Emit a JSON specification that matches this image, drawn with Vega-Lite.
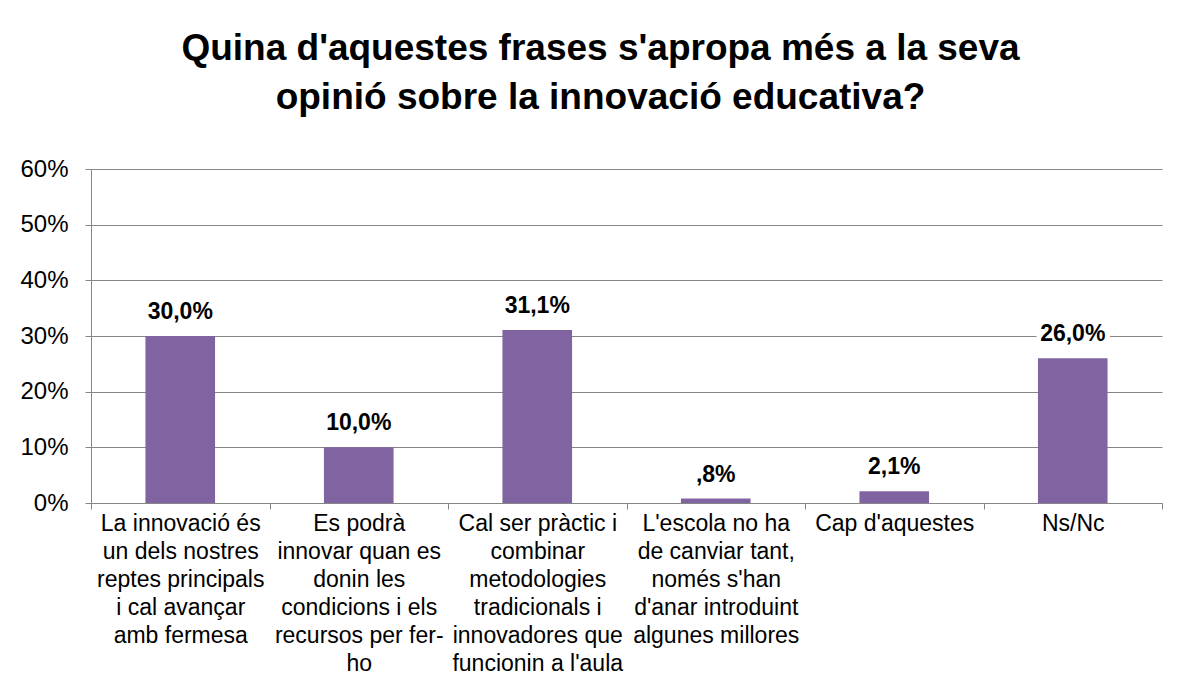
{
  "$schema": "https://vega.github.io/schema/vega-lite/v6.json",
  "width": 1071,
  "height": 334,
  "autosize": "none",
  "padding": {"left": 91, "top": 169, "right": 16, "bottom": 190},
  "background": "white",
  "config": {
    "font": "Liberation Sans",
    "view": {"stroke": null}
  },
  "title": {
    "text": ["Quina d'aquestes frases s'apropa més a la seva", "opinió sobre la innovació educativa?"],
    "fontSize": 37,
    "fontWeight": "bold",
    "font": "Liberation Sans",
    "color": "black",
    "anchor": "middle",
    "dx": -26,
    "lineHeight": 49,
    "offset": 40
  },
  "data": {
    "values": [
      {"frase": "La innovació és|un dels nostres|reptes principals|i cal avançar|amb fermesa", "percentatge": 0.300, "etiqueta": "30,0%"},
      {"frase": "Es podrà|innovar quan es|donin les|condicions i els|recursos per fer-|ho", "percentatge": 0.100, "etiqueta": "10,0%"},
      {"frase": "Cal ser pràctic i|combinar|metodologies|tradicionals i|innovadores que|funcionin a l'aula", "percentatge": 0.311, "etiqueta": "31,1%"},
      {"frase": "L'escola no ha|de canviar tant,|només s'han|d'anar introduint|algunes millores", "percentatge": 0.008, "etiqueta": ",8%"},
      {"frase": "Cap d'aquestes", "percentatge": 0.021, "etiqueta": "2,1%"},
      {"frase": "Ns/Nc", "percentatge": 0.260, "etiqueta": "26,0%"}
    ]
  },
  "encoding": {
    "x": {
      "field": "frase",
      "type": "nominal",
      "sort": null,
      "scale": {"paddingInner": 0, "paddingOuter": 0},
      "axis": {
        "title": null,
        "labelAngle": 0,
        "labelExpr": "split(datum.label, '|')",
        "labelFontSize": 23,
        "labelLineHeight": 28,
        "labelColor": "black",
        "labelPadding": 3,
        "labelBaseline": "top",
        "labelLimit": 0,
        "labelOverlap": false,
        "tickBand": "extent",
        "tickSize": 6,
        "tickColor": "#868686",
        "domainColor": "#868686",
        "grid": false
      }
    },
    "y": {
      "field": "percentatge",
      "type": "quantitative",
      "scale": {"domain": [0, 0.6], "nice": false},
      "axis": {
        "title": null,
        "format": ".0%",
        "values": [0, 0.1, 0.2, 0.3, 0.4, 0.5, 0.6],
        "labelFontSize": 24,
        "labelColor": "black",
        "labelPadding": 17,
        "tickSize": 6,
        "tickColor": "#868686",
        "domainColor": "#868686",
        "gridColor": "#868686",
        "gridWidth": 1
      }
    }
  },
  "layer": [
    {
      "mark": {"type": "bar", "color": "#8064A2", "width": {"band": 0.39}}
    },
    {
      "mark": {"type": "text", "baseline": "bottom", "dy": -12, "fontSize": 23, "fontWeight": "bold", "stroke": "white", "strokeWidth": 10, "strokeJoin": "round", "fill": "white"},
      "encoding": {"text": {"field": "etiqueta"}}
    },
    {
      "mark": {"type": "text", "baseline": "bottom", "dy": -12, "fontSize": 23, "fontWeight": "bold", "color": "black"},
      "encoding": {"text": {"field": "etiqueta"}}
    }
  ]
}
